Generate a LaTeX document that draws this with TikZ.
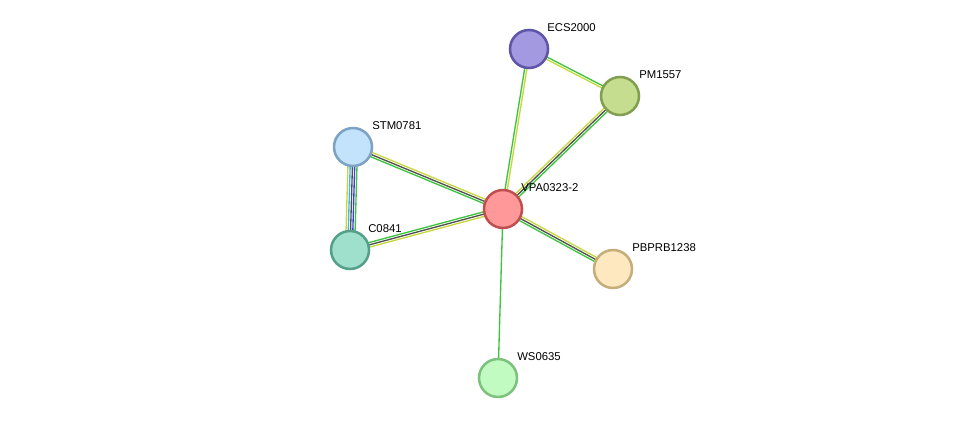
\documentclass[tikz,border=0pt]{standalone}
\usepackage{fontspec}
\setmainfont{Liberation Sans}
\usetikzlibrary{calc}
\pgfdeclarelayer{background}
\pgfsetlayers{background,main}
\definecolor{strGreen}{HTML}{3CC43C}
\definecolor{strYellow}{HTML}{C8D83C}
\definecolor{strDark}{HTML}{505050}
\definecolor{strBlue}{HTML}{3C3CE0}
\definecolor{strCyan}{HTML}{40B8E8}
\tikzset{
  protein/.style={circle, minimum size=28.5pt, inner sep=0pt, line width=1.9pt},
  plabel/.style={anchor=west, font=\fontsize{8.5}{10}\selectfont, inner sep=0pt},
  edge/.style={line width=1pt}
}
% several parallel lines between two proteins
\newcommand{\strEdge}[3]{%
  \foreach \c/\o in {#3} {%
    \draw[edge,\c] ($(#1)!{\o*1.7pt}!90:(#2)$) -- ($(#2)!{\o*1.7pt}!-90:(#1)$);
  }}
\begin{document}
\begin{tikzpicture}[x=0.75pt, y=-0.75pt]
  \useasboundingbox (0,0) rectangle (975,424);

  \node[protein, fill={rgb,255:red,255;green,153;blue,153}, draw={rgb,255:red,192;green,80;blue,80}] (vpa) at (503,209) {};
  \node[protein, fill={rgb,255:red,163;green,153;blue,224}, draw={rgb,255:red,94;green,85;blue,168}] (ecs) at (529,49) {};
  \node[protein, fill={rgb,255:red,196;green,221;blue,143}, draw={rgb,255:red,128;green,160;blue,80}] (pm) at (620,96) {};
  \node[protein, fill={rgb,255:red,194;green,227;blue,251}, draw={rgb,255:red,126;green,162;blue,196}] (stm) at (353,147) {};
  \node[protein, fill={rgb,255:red,159;green,224;blue,205}, draw={rgb,255:red,85;green,160;blue,138}] (c0841) at (350,250) {};
  \node[protein, fill={rgb,255:red,253;green,232;blue,192}, draw={rgb,255:red,196;green,174;blue,122}] (pbprb) at (613,269) {};
  \node[protein, fill={rgb,255:red,194;green,251;blue,194}, draw={rgb,255:red,124;green,194;blue,124}] (ws) at (498,378) {};

  \node[plabel] (vpaLabel) at (521,188) {VPA0323-2};
  \node[plabel] (ecsLabel) at (547,28) {ECS2000};
  \node[plabel] (pmLabel) at (639,75) {PM1557};
  \node[plabel] (stmLabel) at (372,126) {STM0781};
  \node[plabel] (c0841Label) at (368,229) {C0841};
  \node[plabel] (pbprbLabel) at (632,248) {PBPRB1238};
  \node[plabel] (wsLabel) at (517,357) {WS0635};

  \begin{pgfonlayer}{background}
    \strEdge{stm}{vpa}{strYellow/1, strDark/0, strGreen/-1}
    \strEdge{c0841}{vpa}{strYellow/-1, strDark/0, strGreen/1}
    \strEdge{stm}{c0841}{strGreen/2, strBlue/1, strDark/0, strCyan/-1, strYellow/-2}
    \strEdge{ecs}{vpa}{strYellow/0.5, strGreen/-0.5}
    \strEdge{ecs}{pm}{strYellow/-0.5, strGreen/0.5}
    \strEdge{pm}{vpa}{strYellow/-1, strDark/0, strGreen/1}
    \strEdge{vpa}{pbprb}{strGreen/-1, strDark/0, strYellow/1}
    \strEdge{vpa}{ws}{strGreen/0}
  \end{pgfonlayer}
\end{tikzpicture}
\end{document}
